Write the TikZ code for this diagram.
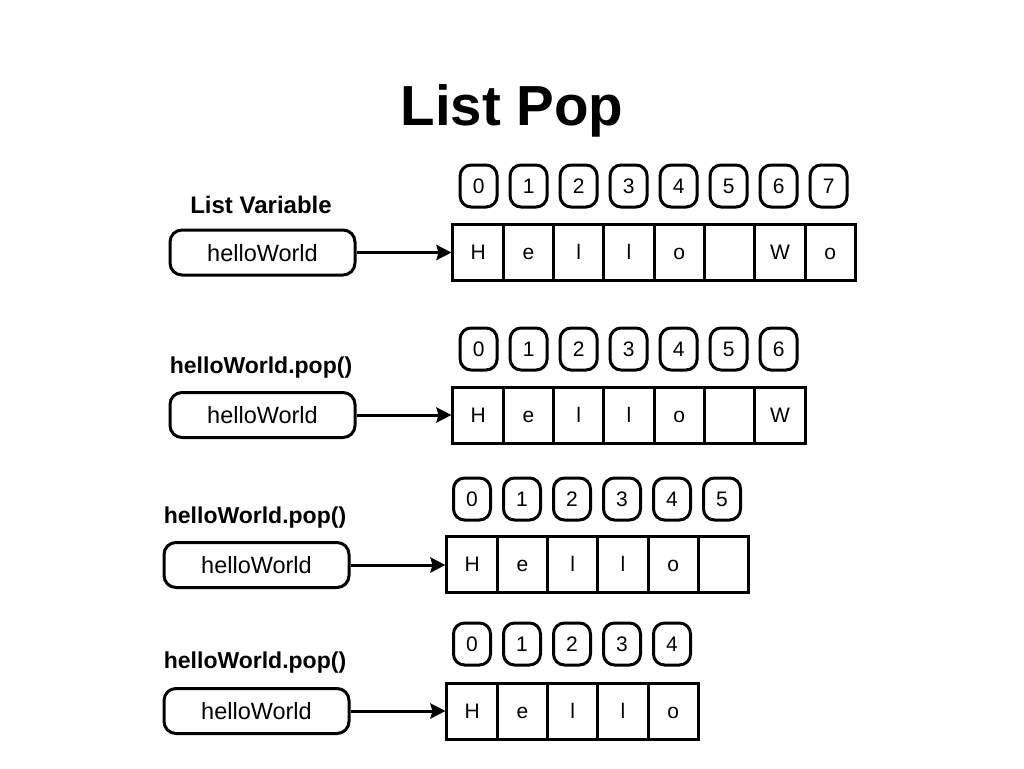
\documentclass[tikz,border=0pt]{standalone}
\usepackage{fontspec}
\setmainfont{Liberation Sans}
\usetikzlibrary{arrows.meta}
\begin{document}
\begin{tikzpicture}[x=1pt,y=-1pt,
  varbox/.style={draw,line width=3pt,rounded corners=12pt,minimum width=185pt,minimum height=45pt,inner sep=0pt,text height=17pt,text depth=0pt,font=\fontsize{23.5}{25}\selectfont},
  cellbox/.style={draw,line width=3pt,minimum width=50.3pt,minimum height=56pt,inner sep=0pt,text height=15pt,text depth=0pt,font=\fontsize{21}{23}\selectfont},
  idxbox/.style={draw,line width=3pt,rounded corners=11pt,minimum width=37pt,minimum height=42pt,inner sep=0pt,text height=15pt,text depth=0pt,font=\fontsize{21}{23}\selectfont},
  lbl/.style={font=\bfseries\fontsize{23}{25}\selectfont,inner sep=0pt},
  ptr/.style={line width=3pt,-{Stealth[length=15pt,width=15pt,inset=2pt]}}
]
\useasboundingbox (0,0) rectangle (1024,768);
\node[font=\bfseries\fontsize{56.5}{62}\selectfont,inner sep=0pt] (title) at (512,111) {List Pop};

% Row 1
\node[lbl,font=\bfseries\fontsize{24}{26}\selectfont] (l1) at (261,205) {List Variable};
\node[varbox] (v1) at (262.5,252.5) {helloWorld};
\foreach \t [count=\i from 0] in {H,e,l,l,o,{},W,o}{
  \node[cellbox] (c1-\i) at (478.1+50.3*\i,252) {\t};
  \node[idxbox] (n1-\i) at (478.6+50*\i,186) {\i};
}
\draw[ptr] (v1.east) -- (v1.east -| c1-0.west);

% Row 2
\node[lbl] (l2) at (261,368) {helloWorld.pop()};
\node[varbox] (v2) at (262.5,415) {helloWorld};
\foreach \t [count=\i from 0] in {H,e,l,l,o,{},W}{
  \node[cellbox] (c2-\i) at (478.1+50.3*\i,415) {\t};
  \node[idxbox] (n2-\i) at (478.6+50*\i,349) {\i};
}
\draw[ptr] (v2.east) -- (v2.east -| c2-0.west);

% Row 3
\node[lbl] (l3) at (255,518) {helloWorld.pop()};
\node[varbox] (v3) at (256.5,565) {helloWorld};
\foreach \t [count=\i from 0] in {H,e,l,l,o,{}}{
  \node[cellbox] (c3-\i) at (472.1+50.3*\i,564) {\t};
  \node[idxbox] (n3-\i) at (472+50*\i,499) {\i};
}
\draw[ptr] (v3.east) -- (v3.east -| c3-0.west);

% Row 4
\node[lbl] (l4) at (255,663) {helloWorld.pop()};
\node[varbox] (v4) at (256.5,711) {helloWorld};
\foreach \t [count=\i from 0] in {H,e,l,l,o}{
  \node[cellbox] (c4-\i) at (472.1+50.3*\i,711) {\t};
  \node[idxbox] (n4-\i) at (472+50*\i,644) {\i};
}
\draw[ptr] (v4.east) -- (v4.east -| c4-0.west);
\end{tikzpicture}
\end{document}
